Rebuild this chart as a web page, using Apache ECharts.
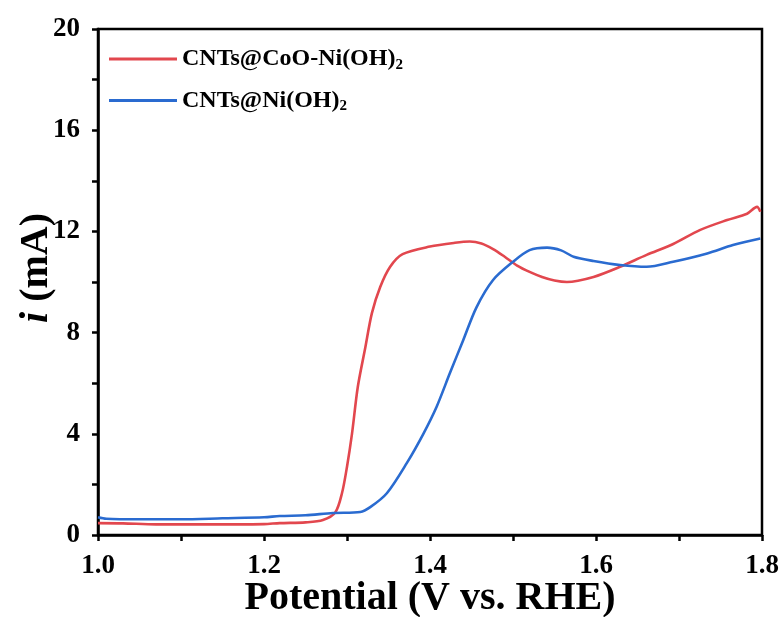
<!DOCTYPE html>
<html><head><meta charset="utf-8">
<script src="https://cdn.jsdelivr.net/npm/echarts@6/dist/echarts.min.js"></script>
<style>html,body{margin:0;padding:0;background:#fff}#c{width:784px;height:617px}</style>
</head><body><div id="c"></div>
<script>
const seriesNames = ['CNTs@CoO-Ni(OH)2', 'CNTs@Ni(OH)2'];
const xTicks = [1.0, 1.2, 1.4, 1.6, 1.8];
const yTicks = [0, 4, 8, 12, 16, 20];
const redX = [1.0, 1.03, 1.07, 1.10, 1.15, 1.20, 1.219, 1.25, 1.271, 1.286, 1.294, 1.300, 1.306, 1.313, 1.322, 1.330, 1.340, 1.352, 1.367, 1.400, 1.430, 1.448, 1.462, 1.476, 1.490, 1.505, 1.520, 1.535, 1.550, 1.565, 1.597, 1.629, 1.661, 1.693, 1.725, 1.758, 1.782, 1.794, 1.798];
const redY = [0.47, 0.46, 0.42, 0.42, 0.42, 0.43, 0.47, 0.50, 0.59, 0.90, 1.66, 2.70, 4.00, 5.85, 7.40, 8.77, 9.80, 10.60, 11.10, 11.40, 11.55, 11.60, 11.52, 11.30, 11.00, 10.65, 10.40, 10.20, 10.06, 10.00, 10.20, 10.60, 11.07, 11.50, 12.05, 12.45, 12.70, 12.97, 12.78];
const blueX = [1.0, 1.01, 1.05, 1.10, 1.15, 1.20, 1.219, 1.25, 1.283, 1.316, 1.328, 1.348, 1.372, 1.392, 1.408, 1.424, 1.440, 1.456, 1.476, 1.500, 1.520, 1.541, 1.558, 1.573, 1.597, 1.629, 1.661, 1.693, 1.734, 1.765, 1.798];
const blueY = [0.70, 0.64, 0.62, 0.62, 0.66, 0.70, 0.75, 0.78, 0.87, 0.91, 1.10, 1.65, 2.84, 4.00, 5.07, 6.40, 7.70, 9.00, 10.08, 10.80, 11.26, 11.36, 11.25, 11.00, 10.83, 10.67, 10.60, 10.80, 11.13, 11.46, 11.72];

const zip = (xs, ys) => xs.map((x, i) => [x, ys[i]]);
const serif = '"Liberation Serif", "Times New Roman", serif';
const chart = echarts.init(document.getElementById('c'));
chart.setOption({
  animation: false,
  backgroundColor: '#fff',
  grid: { left: 98, right: 22, top: 29, bottom: 82, outerBoundsMode: 'none', containLabel: false, show: true, borderColor: '#000', borderWidth: 2.5, backgroundColor: 'transparent' },
  legend: {
    left: 104, top: 42, orient: 'vertical', itemWidth: 68, itemHeight: 3, itemGap: 16,
    icon: 'rect',
    data: seriesNames,
    formatter: n => n.replace(/2$/, '{sub|2}'),
    textStyle: { fontFamily: serif, fontWeight: 'bold', fontSize: 24, color: '#000',
      rich: { sub: { fontFamily: serif, fontWeight: 'bold', fontSize: 15, color: '#000', padding: [12, 0, 0, 0] } } }
  },
  xAxis: {
    type: 'value', min: xTicks[0], max: xTicks[xTicks.length - 1], interval: 0.2,
    axisLine: { lineStyle: { color: '#000', width: 2.5 } },
    axisTick: { inside: false, length: 6, lineStyle: { width: 2.5 } },
    minorTick: { show: true, splitNumber: 2, length: 6, lineStyle: { color: '#000', width: 2.5 } },
    splitLine: { show: false },
    axisLabel: { formatter: v => v.toFixed(1), fontFamily: serif, fontWeight: 'bold', fontSize: 27, color: '#000', margin: 18 },
    name: 'Potential (V vs. RHE)', nameLocation: 'middle', nameGap: 44, nameMoveOverlap: false,
    nameTextStyle: { fontFamily: serif, fontWeight: 'bold', fontSize: 40, color: '#000' }
  },
  yAxis: {
    type: 'value', min: yTicks[0], max: yTicks[yTicks.length - 1], interval: 4,
    axisLine: { show: true, lineStyle: { color: '#000', width: 2.5 } },
    axisTick: { show: true, inside: false, length: 6, lineStyle: { width: 2.5 } },
    minorTick: { show: true, splitNumber: 2, length: 6, lineStyle: { color: '#000', width: 2.5 } },
    splitLine: { show: false },
    axisLabel: { fontFamily: serif, fontWeight: 'bold', fontSize: 27, color: '#000', margin: 18 },
    name: '{it|i} (mA)', nameLocation: 'middle', nameGap: 41, nameMoveOverlap: false,
    nameTextStyle: { fontFamily: serif, fontWeight: 'bold', fontSize: 40, color: '#000', padding: [0, 0, 0, 28],
      rich: { it: { fontFamily: serif, fontWeight: 'bold', fontStyle: 'italic', fontSize: 40, color: '#000' } } }
  },
  series: [
    { name: seriesNames[0], type: 'line', data: zip(redX, redY), symbol: 'none', smooth: 0.3,
      lineStyle: { color: '#e2474e', width: 2.6 }, itemStyle: { color: '#e2474e' } },
    { name: seriesNames[1], type: 'line', data: zip(blueX, blueY), symbol: 'none', smooth: 0.3,
      lineStyle: { color: '#2a6bd0', width: 2.6 }, itemStyle: { color: '#2a6bd0' } }
  ]
});
</script></body></html>
